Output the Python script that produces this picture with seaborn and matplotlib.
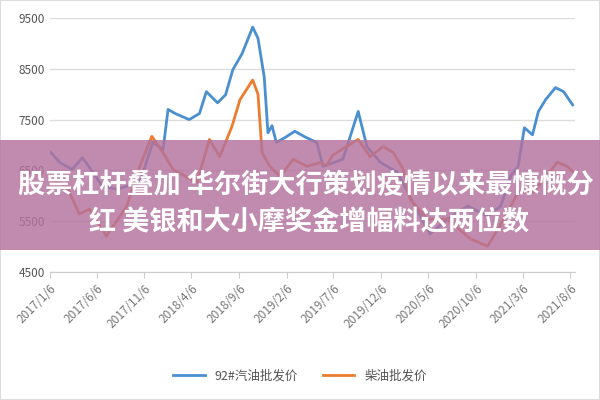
import matplotlib
matplotlib.use("Agg")
import matplotlib.pyplot as plt
import seaborn as sns
import pandas as pd
from matplotlib.patches import Rectangle

gas_dates = ["2017-01-06","2017-01-16","2017-02-08","2017-03-19","2017-04-21","2017-05-13","2017-06-24","2017-08-09",
 "2017-10-22","2017-12-03","2018-01-05","2018-01-21","2018-02-13","2018-03-30","2018-05-02","2018-05-24","2018-06-29",
 "2018-07-25","2018-08-17","2018-09-16","2018-10-20","2018-11-06","2018-11-26","2018-12-08","2018-12-21","2019-01-04",
 "2019-02-02","2019-03-04","2019-04-09","2019-05-14","2019-06-03","2019-08-06","2019-09-24","2019-10-22","2019-12-04",
 "2020-01-28","2020-03-18","2020-05-12","2020-07-06","2020-09-10","2020-11-13","2020-12-25","2021-01-27","2021-02-19",
 "2021-03-11","2021-04-06","2021-04-25","2021-05-18","2021-06-19","2021-07-15","2021-08-13"]
gas_vals = [6870,6810,6650,6520,6750,6560,6190,6130,6260,7050,6910,7700,7620,7500,7620,8050,7830,7990,8480,8800,9320,
 9100,8340,7240,7380,7050,7150,7270,7150,7050,6580,6720,7660,6970,6660,6460,5870,5250,5540,5800,5600,5800,6400,6580,
 7340,7200,7660,7890,8130,8050,7790]
die_dates = ["2017-01-06","2017-03-01","2017-04-11","2017-05-13","2017-07-07","2017-09-10","2017-10-22","2017-11-30",
 "2018-01-05","2018-02-06","2018-04-23","2018-06-03","2018-07-06","2018-08-14","2018-09-09","2018-10-20","2018-11-06",
 "2018-11-19","2018-12-14","2019-01-16","2019-02-27","2019-04-12","2019-05-23","2019-06-15","2019-07-04","2019-09-24",
 "2019-11-01","2019-12-13","2020-01-15","2020-02-16","2020-03-09","2020-05-03","2020-07-06","2020-09-19","2020-11-13",
 "2021-01-04","2021-02-19","2021-04-09","2021-06-25","2021-07-27","2021-08-13"]
die_vals = [6320,6190,5640,5740,5210,5790,6580,7170,6850,6520,6260,7110,6770,7360,7890,8280,8000,6850,6580,6380,6720,
 6580,6650,6600,6800,7110,6770,6970,6850,6520,5930,5540,5540,5150,5010,5540,6070,6070,6660,6580,6480]
tick_labels = ["2017/1/6","2017/6/6","2017/11/6","2018/4/6","2018/9/6","2019/2/6","2019/7/6","2019/12/6",
 "2020/5/6","2020/10/6","2021/3/6","2021/8/6"]
series_names = ["92#汽油批发价", "柴油批发价"]
title_lines = ["股票杠杆叠加 华尔街大行策划疫情以来最慷慨分", "红 美银和大小摩奖金增幅料达两位数"]

plt.rcParams["font.family"] = ["Noto Sans CJK SC", "DejaVu Sans"]
df = pd.concat([
    pd.DataFrame({"date": pd.to_datetime(gas_dates), "price": gas_vals, "series": series_names[0]}),
    pd.DataFrame({"date": pd.to_datetime(die_dates), "price": die_vals, "series": series_names[1]}),
])

fig = plt.figure(figsize=(6, 4), dpi=100)
ax = fig.add_axes([0.083, 0.32, 0.875, 0.635])
sns.lineplot(data=df, x="date", y="price", hue="series", palette=["#4a8fd0", "#ec7d2e"], linewidth=2, ax=ax)
ax.set_ylim(4500, 9500)
ax.set_yticks(range(4500, 9501, 1000))
ax.set_xlim(pd.Timestamp("2017-01-06"), pd.Timestamp("2021-08-20"))
ticks = pd.to_datetime(tick_labels, format="%Y/%m/%d")
ax.set_xticks(ticks)
ax.set_xticklabels(tick_labels, rotation=45, ha="right", rotation_mode="anchor", fontsize=8.5, color="#777777")
ax.tick_params(axis="y", labelsize=8.5, labelcolor="#555555", length=0)
ax.tick_params(axis="x", length=4, color="#cccccc")
ax.grid(axis="y", color="#dddddd", linewidth=1)
ax.set_axisbelow(True)
for s in ["top", "right", "left"]:
    ax.spines[s].set_visible(False)
ax.spines["bottom"].set_color("#cccccc")
ax.set_xlabel(""); ax.set_ylabel("")
h, l = ax.get_legend_handles_labels()
ax.legend(h, l, loc="center", ncol=2, frameon=False, fontsize=9, labelcolor="#555555", handlelength=2.5)
ax.legend_.set_bbox_to_anchor((0.5, 0.06), transform=fig.transFigure)

fig.patches.append(Rectangle((0, 0), 1, 1, transform=fig.transFigure, fill=False, edgecolor="#dddddd", lw=1.5))
fig.patches.append(Rectangle((0, 0.375), 1, 0.275, transform=fig.transFigure, facecolor="#b3729e", alpha=0.82, zorder=5))
fig.text(0.03, 0.537, title_lines[0], color="white", fontsize=19.5, fontweight="bold", va="center", zorder=6)
fig.text(0.148, 0.445, title_lines[1], color="white", fontsize=19.5, fontweight="bold", va="center", zorder=6)
fig.savefig("out.png", dpi=100)
